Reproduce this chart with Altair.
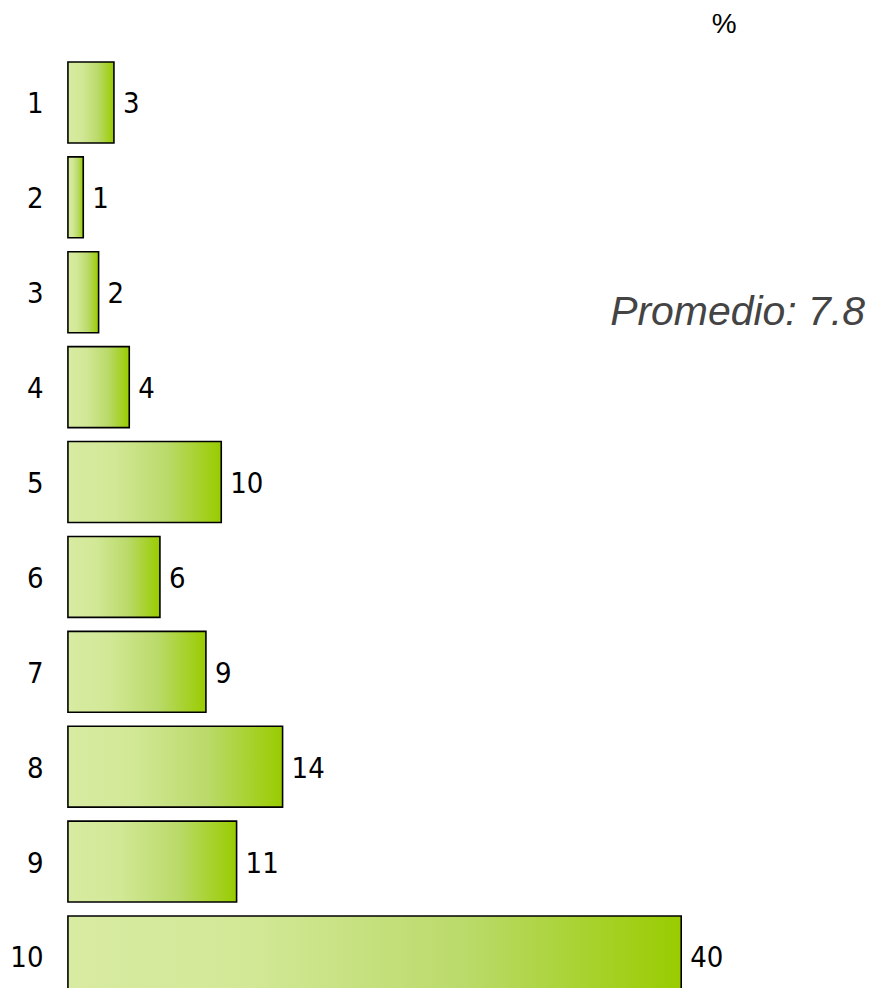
import altair as alt
import pandas as pd

scores = [1, 2, 3, 4, 5, 6, 7, 8, 9, 10]
percents = [3, 1, 2, 4, 10, 6, 9, 14, 11, 40]
unit_label = "%"
average_label = "Promedio: 7.8"

df = pd.DataFrame({"score": scores, "pct": percents})

FONT = "'Liberation Sans Narrow', 'DejaVu Sans Condensed', 'Roboto Condensed', Roboto, sans-serif"

grad = alt.LinearGradient(
    gradient="linear",
    x1=0, x2=1, y1=0, y2=0,
    stops=[
        alt.GradientStop(color="#d8eba2", offset=0),
        alt.GradientStop(color="#d2e896", offset=0.3),
        alt.GradientStop(color="#bada6a", offset=0.65),
        alt.GradientStop(color="#99cc00", offset=1),
    ],
)

y_enc = alt.Y(
    "score:O",
    scale=alt.Scale(paddingInner=0.147, paddingOuter=0.0735),
    axis=alt.Axis(
        title=None, domain=False, ticks=False, tickSize=0, labelPadding=25,
        labelFont=FONT, labelFontSize=29, labelColor="#000000", labelAngle=0,
        labelOffset=2,
    ),
)
x_enc = alt.X("pct:Q", scale=alt.Scale(domain=[0, 40], nice=False), axis=None)

bars = alt.Chart(df).mark_bar(
    color=grad, stroke="#000000", strokeWidth=1.6
).encode(x=x_enc, y=y_enc)

labels = alt.Chart(df).mark_text(
    align="left", baseline="middle", dx=9, dy=2, font=FONT, fontSize=29, color="#000000"
).encode(x=x_enc, y=y_enc, text="pct:Q")

pct_text = alt.Chart(pd.DataFrame({"t": [unit_label]})).mark_text(
    align="center", baseline="middle", font="Liberation Sans", fontSize=28, color="#000000"
).encode(x=alt.value(657), y=alt.value(-30), text="t:N")

avg_text = alt.Chart(pd.DataFrame({"t": [average_label]})).mark_text(
    align="right", baseline="middle", font="Liberation Sans", fontStyle="italic",
    fontSize=41, color="#444444"
).encode(x=alt.value(798), y=alt.value(258), text="t:N")

chart = alt.layer(bars, labels, pct_text, avg_text).properties(
    width=614, height=950,
    padding={"left": 60, "top": 46.5, "right": 186, "bottom": -16.5},
    autosize=alt.AutoSizeParams(type="none"),
).configure(background="#ffffff").configure_view(stroke=None)

chart.save("out.html", embed_options={"renderer": "svg", "actions": False})
